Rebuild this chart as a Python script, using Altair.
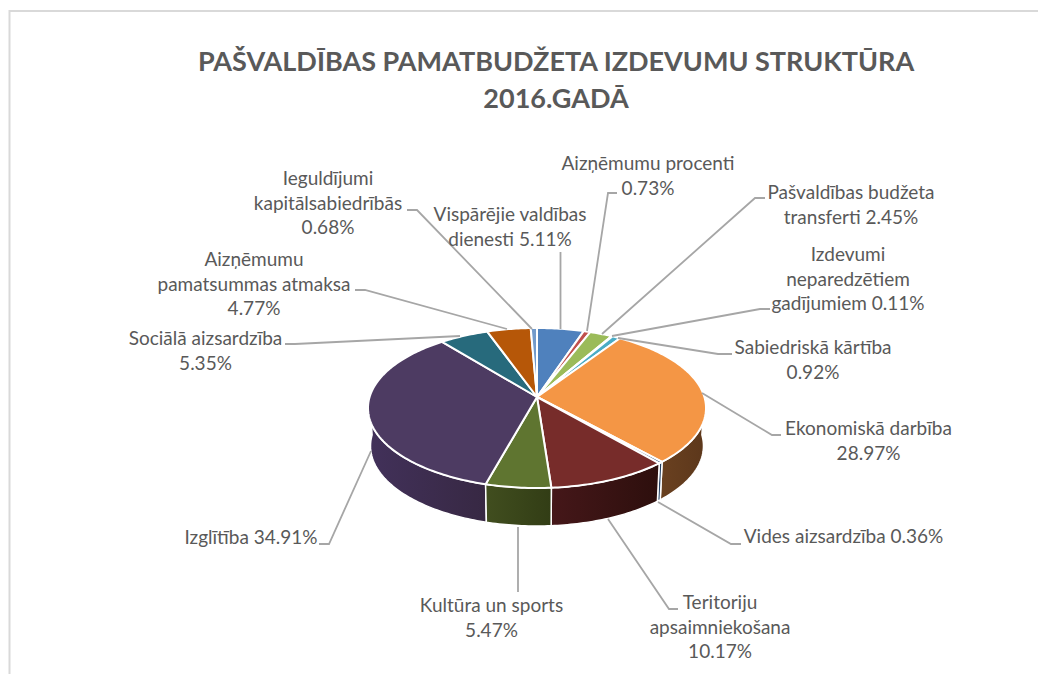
import math
import altair as alt

TITLE_LINES = ["PAŠVALDĪBAS PAMATBUDŽETA IZDEVUMU STRUKTŪRA", "2016.GADĀ"]

names = ["Vispārējie valdības dienesti", "Aizņēmumu procenti", "Pašvaldības budžeta transferti",
         "Izdevumi neparedzētiem gadījumiem", "Sabiedriskā kārtība", "Ekonomiskā darbība",
         "Vides aizsardzība", "Teritoriju apsaimniekošana", "Kultūra un sports", "Izglītība",
         "Sociālā aizsardzība", "Aizņēmumu pamatsummas atmaksa", "Ieguldījumi kapitālsabiedrībās"]
shares = [5.11, 0.73, 2.45, 0.11, 0.92, 28.97, 0.36, 10.17, 5.47, 34.91, 5.35, 4.77, 0.68]
colors = ["#4F81BD", "#C0504D", "#9BBB59", "#8064A2", "#4BACC6", "#F49645",
          "#2C4D75", "#772C2A", "#5F7530", "#4D3B62", "#276A7C", "#B65708", "#729ACA"]
label_texts = ["Vispārējie valdības\ndienesti 5.11%", "Aizņēmumu procenti\n0.73%",
               "Pašvaldības budžeta\ntransferti 2.45%", "Izdevumi\nneparedzētiem\ngadījumiem 0.11%",
               "Sabiedriskā kārtība\n0.92%", "Ekonomiskā darbība\n28.97%", "Vides aizsardzība 0.36%",
               "Teritoriju\napsaimniekošana\n10.17%", "Kultūra un sports\n5.47%", "Izglītība 34.91%",
               "Sociālā aizsardzība\n5.35%", "Aizņēmumu\npamatsummas atmaksa\n4.77%",
               "Ieguldījumi\nkapitālsabiedrībās\n0.68%"]

# Layout: hand-placed label anchors (first line) and leader paths (page pixels), as in the source
label_x = [510, 648, 851, 848, 813, 868.5, 843.5, 720, 491.5, 251, 205.5, 254, 328]
label_y = [215, 164, 193, 255, 348, 429, 537, 603, 606, 538, 339, 260, 179]
leaders = [
    [(560.5, 252), (560.5, 329)],
    [(617, 193), (608, 193), (587, 331)],
    [(765, 198), (755, 198), (602, 334)],
    [(770, 309), (760, 309), (612, 336)],
    [(732, 354), (718, 354), (618, 338)],
    [(781, 435), (772, 435), (702, 393)],
    [(741, 544), (731, 544), (658, 502)],
    [(678, 609), (669, 609), (608, 519)],
    [(518, 592), (518, 527)],
    [(319, 544), (329, 544), (371, 451)],
    [(285, 344), (295, 344), (460, 336)],
    [(355, 290), (365, 290), (507, 329)],
    [(407, 210), (417, 210), (532, 329)],
]
border = [(9.5, 682), (9.5, 11), (1046, 11)]

CX, CY = 537, 397
RX, RY, K = 167.4, 78.5, 0.1375
DEPTH, BOTTOM_NARROW = 38, 0.985
PAD_TOP = 120
PROJ = dict(type="identity", scale=1, translate=[-8, -8 - PAD_TOP])


def rim(deg):
    a = math.radians(deg)
    u, v = math.sin(a), math.cos(a)
    d = 1 + K * v
    return (CX + RX * u / d, CY - RY * v / d)


def lower(p):
    return (CX + (p[0] - CX) * BOTTOM_NARROW, p[1] + DEPTH)


def arc(a0, a1):
    n = max(2, int(abs(a1 - a0)) + 2)
    return [rim(a0 + (a1 - a0) * i / (n - 1)) for i in range(n)]


def feature(name, coords, closed=True):
    pts = [list(p) for p in coords]
    if closed:
        pts = pts + [pts[0]]
        geom = {"type": "Polygon", "coordinates": [pts]}
    else:
        geom = {"type": "LineString", "coordinates": pts}
    return {"type": "Feature", "properties": {"name": name}, "geometry": geom}


bounds, total = [], 0.0
for s in shares:
    bounds.append((total / 100 * 360, (total + s) / 100 * 360))
    total += s

top_features = [feature(n, [(CX, CY)] + arc(a0, a1)) for n, (a0, a1) in zip(names, bounds)]

# Side wall gradients (left to right) for the slices whose rim faces the viewer
side_stops = {
    5: ("#6A4120", "#5C371B"),
    6: ("#27476C", "#1F3A5A"),
    7: ("#451719", "#2D0F0D"),
    8: ("#414E1F", "#323D15"),
    9: ("#42315A", "#372843"),
}
VIS_R, VIS_L = 90, 270
layers = []
for i in [5, 6, 7, 9, 8]:
    a0, a1 = bounds[i]
    a0, a1 = max(a0, VIS_R), min(a1, VIS_L)
    top_edge = arc(a0, a1)
    poly = top_edge + [lower(p) for p in reversed(top_edge)]
    c0, c1 = side_stops[i]
    layers.append(
        alt.Chart(alt.Data(values=[feature(names[i], poly)]))
        .mark_geoshape(
            stroke="#FFFFFF", strokeWidth=1.5,
            fill=alt.Gradient(gradient="linear", x1=0, x2=1, y1=0, y2=0,
                              stops=[alt.GradientStop(color=c0, offset=0),
                                     alt.GradientStop(color=c1, offset=1)]))
        .project(**PROJ)
    )

tops = (
    alt.Chart(alt.Data(values=top_features))
    .mark_geoshape(stroke="#FFFFFF", strokeWidth=2, strokeJoin="round")
    .encode(color=alt.Color("properties.name:N",
                            scale=alt.Scale(domain=names, range=colors), legend=None))
    .project(**PROJ)
)
layers.append(tops)

lines = (
    alt.Chart(alt.Data(values=[feature(n, l, closed=False) for n, l in zip(names, leaders)]))
    .mark_geoshape(filled=False, stroke="#A6A6A6", strokeWidth=1.8)
    .project(**PROJ)
)
layers.append(lines)

frame = (
    alt.Chart(alt.Data(values=[feature("frame", border, closed=False)]))
    .mark_geoshape(filled=False, stroke="#D9D9D9", strokeWidth=2, clip=False)
    .project(**PROJ)
)
layers.append(frame)

labels = (
    alt.Chart(alt.Data(values=[{"t": t, "x": x, "y": y}
                               for t, x, y in zip(label_texts, label_x, label_y)]))
    .mark_text(font="Lato", fontSize=19, color="#595959", align="center", baseline="middle",
               lineBreak="\n", lineHeight=24.7, clip=False)
    .encode(longitude=alt.Longitude("x:Q"), latitude=alt.Latitude("y:Q"), text="t:N")
    .project(**PROJ)
)
layers.append(labels)

chart = (
    alt.layer(*layers)
    .properties(
        width=1030, height=546,
        padding={"left": 0, "top": PAD_TOP, "right": 0, "bottom": 0},
        autosize=alt.AutoSizeParams(type="none"),
        background="#FFFFFF",
        title=alt.Title(text=TITLE_LINES, font="Lato", fontSize=27, fontWeight="bold",
                        color="#595959", anchor="middle", dx=33, offset=-107, lineHeight=37),
    )
    .configure_view(stroke=None)
)

chart.save("out.html", embed_options={"renderer": "svg", "actions": False})
